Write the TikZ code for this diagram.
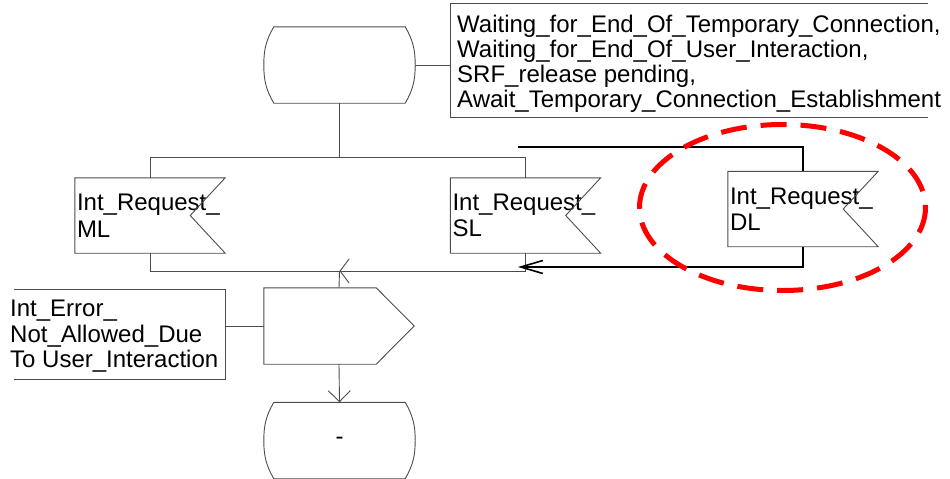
\documentclass[tikz,border=0pt]{standalone}
\usepackage{fontspec}
\setmainfont{Liberation Sans}
\usepackage{tikz}
\usetikzlibrary{arrows.meta}

\begin{document}
\begin{tikzpicture}[x=1pt, y=-1pt,
  ln/.style={draw=black!70, line width=0.9pt},
  blk/.style={draw=black, line width=1.6pt},
  txt/.style={font=\fontsize{24}{25}\selectfont, inner sep=0pt, anchor=north west, align=left},
  sdlstate/.style={minimum width=151pt, minimum height=76pt, inner sep=0pt, font=\fontsize{24}{25}\selectfont},
  sdlin/.style={minimum width=150pt, minimum height=75pt, text width=146pt, inner xsep=2pt, inner ysep=0pt, align=left, font=\fontsize{24}{26.5}\selectfont},
  sdlout/.style={minimum width=150pt, minimum height=76pt, inner sep=0pt}]
  \useasboundingbox (0,0) rectangle (950,479);
  \node[sdlstate] (st) at (339.5,65) {};
  \node[sdlin] (ml) at (150,215.5) {Int\_Request\_\\ML};
  \node[sdlin] (sl) at (525.5,215.5) {Int\_Request\_\\SL};
  \node[sdlin] (dl) at (803,209) {Int\_Request\_\\DL};
  \node[sdlout] (out) at (339,326) {};
  \node[sdlstate] (es) at (339.5,440.5) {-};
  \node[txt] (cmtop) at (457,14.5) {Waiting\_for\_End\_Of\_Temporary\_Connection,\\Waiting\_for\_End\_Of\_User\_Interaction,\\SRF\_release pending,\\Await\_Temporary\_Connection\_Establishment};
  \node[txt, font=\fontsize{24}{25.8}\selectfont] (cmbot) at (10,299.5) {Int\_Error\_\\Not\_Allowed\_Due\\To User\_Interaction};
  \coordinate (cmtopin) at (450,65);
  \coordinate (cmbotin) at (225,326);
  \coordinate (sp) at (339.5,157);
  \coordinate (jn) at (339.5,271);
  \coordinate (dlin) at (518,147);
  \coordinate (dlout) at (518,267);
  \draw[ln] ([xshift=10pt]st.north west) -- ([xshift=-10pt]st.north east) to[out=-60, in=90] (st.east) to[out=-90, in=60] ([xshift=-10pt]st.south east) -- ([xshift=10pt]st.south west) to[out=120, in=-90] (st.west) to[out=90, in=-120] cycle;
  \draw[ln] ([xshift=10pt]es.north west) -- ([xshift=-10pt]es.north east) to[out=-60, in=90] (es.east) to[out=-90, in=60] ([xshift=-10pt]es.south east) -- ([xshift=10pt]es.south west) to[out=120, in=-90] (es.west) to[out=90, in=-120] cycle;
  \draw[ln] (ml.north west) -- (ml.north east) -- ([xshift=-35pt]ml.east) -- (ml.south east) -- (ml.south west) -- cycle;
  \draw[ln] (sl.north west) -- (sl.north east) -- ([xshift=-35pt]sl.east) -- (sl.south east) -- (sl.south west) -- cycle;
  \draw[ln] (dl.north west) -- (dl.north east) -- ([xshift=-35pt]dl.east) -- (dl.south east) -- (dl.south west) -- cycle;
  \draw[ln] (out.north west) -- ([xshift=-38pt]out.north east) -- (out.east) -- ([xshift=-38pt]out.south east) -- (out.south west) -- cycle;
  \draw[ln] (928,3) -| (450,117) -- (928,117);
  \draw[ln] (14,289) -| (225,379) -- (14,379);
  \draw[ln] (st.east) -- (cmtopin);
  \draw[ln] (st.south) -- (sp);
  \draw[ln] (sp) -| (ml.north);
  \draw[ln] (sp) -| (sl.north);
  \draw[ln] (ml.south) |- (jn);
  \draw[ln, {Straight Barb[length=9pt, width=24pt]}-] (jn) -| (sl.south);
  \draw[ln] (jn) -- (out.north);
  \draw[ln, -{Straight Barb[length=11pt, width=22pt]}] (out.south) -- (es.north);
  \draw[ln] (out.west) -- (cmbotin);
  \draw[blk] (dlin) -| (dl.north);
  \draw[blk, -{Straight Barb[length=22pt, width=13pt]}] (dl.south) |- (dlout);
  \draw[red, line width=5pt, dash pattern=on 26pt off 14pt] (782.5,207.5) ellipse [x radius=143, y radius=83];
\end{tikzpicture}
\end{document}
